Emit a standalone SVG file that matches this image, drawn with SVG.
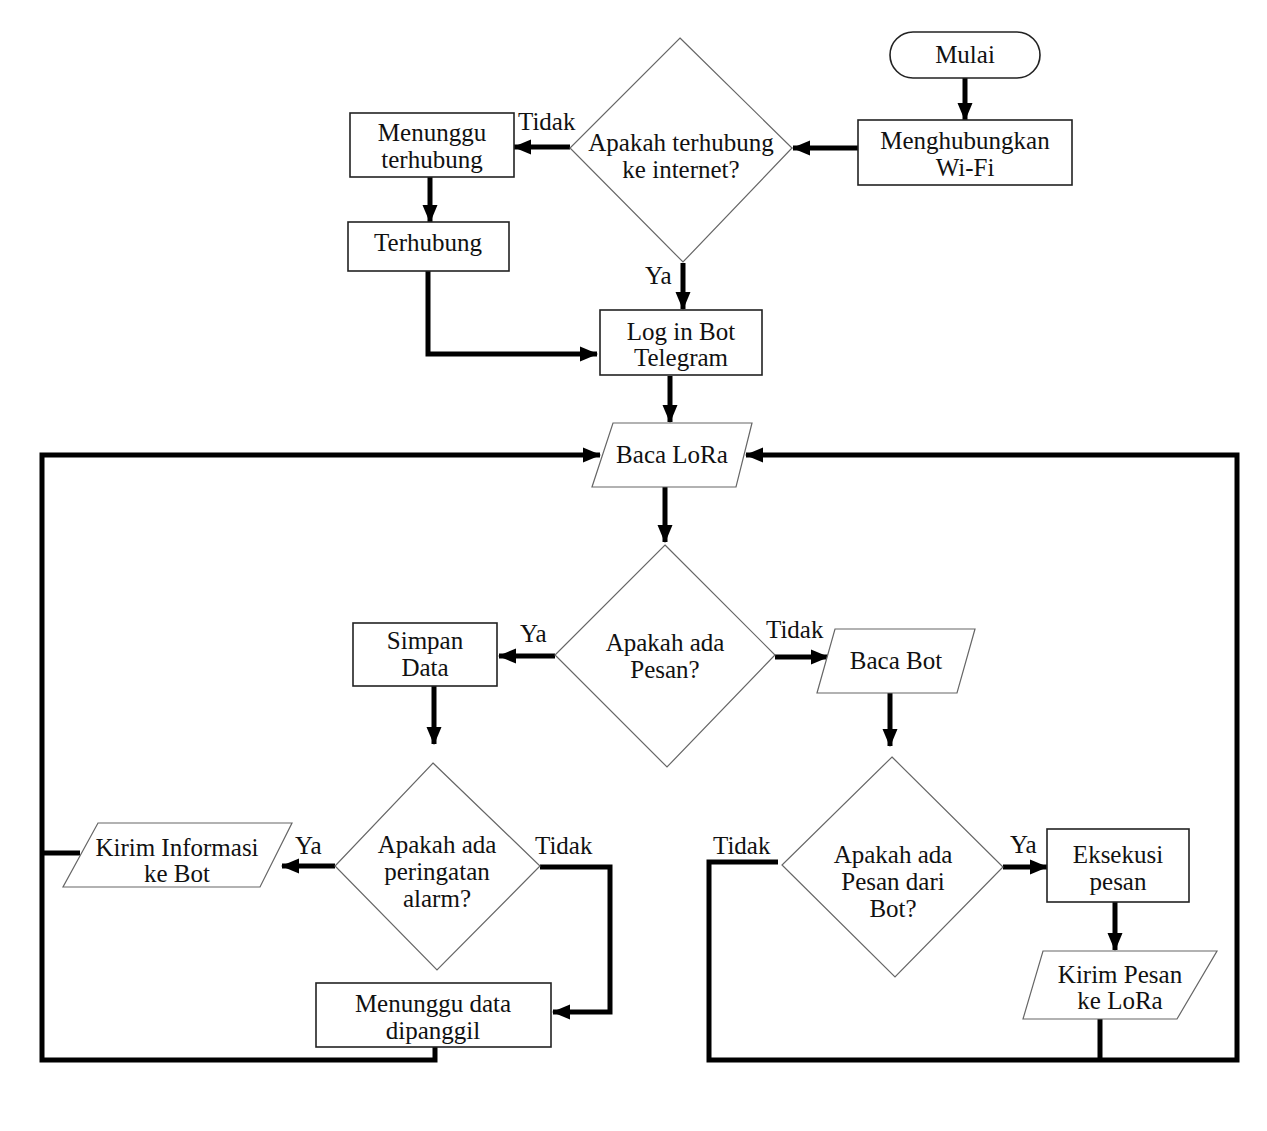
<svg xmlns="http://www.w3.org/2000/svg" width="1267" height="1131" viewBox="0 0 1267 1131">
<style>
.box{fill:#fff;stroke:#222;stroke-width:1.6}
.dia{fill:#fff;stroke:#666;stroke-width:1.2}
.t{font-family:"Liberation Serif","Times New Roman",serif;font-size:25px;fill:#111;text-anchor:middle}
.lbl{font-family:"Liberation Serif","Times New Roman",serif;font-size:25px;fill:#111}
.c{fill:none;stroke:#000;stroke-width:5;stroke-linejoin:miter}
.a{marker-end:url(#ah)}
</style>
<defs>
<marker id="ah" markerUnits="userSpaceOnUse" markerWidth="18" markerHeight="16" refX="17" refY="8" orient="auto">
<path d="M0,0.5 L18,8 L0,15.5 z" fill="#000"/>
</marker>
</defs>
<rect width="1267" height="1131" fill="#fff"/>
<g id="connectors">
<path class="c a" d="M965,78 V120"/>
<path class="c a" d="M858,148 H793"/>
<path class="c a" d="M570,147 H514"/>
<path class="c a" d="M430,177 V222"/>
<path class="c a" d="M428,271 V354 H597"/>
<path class="c a" d="M683,263 V309"/>
<path class="c a" d="M670,376 V422"/>
<path class="c a" d="M435,1047 V1060 H42 V455 H600"/>
<path class="c" d="M42,853 H80"/>
<path class="c a" d="M778,862 H709 V1060 H1237 V455 H746"/>
<path class="c" d="M1100,1019 V1060"/>
<path class="c a" d="M665,487 V542"/>
<path class="c a" d="M555,656 H499"/>
<path class="c a" d="M434,686 V744"/>
<path class="c a" d="M775,657 H828"/>
<path class="c a" d="M890,693 V746"/>
<path class="c a" d="M1003,867 H1047"/>
<path class="c a" d="M1115,902 V950"/>
<path class="c a" d="M335,866 H282"/>
<path class="c a" d="M540,867 H610 V1012 H553"/>
</g>
<g id="labels">
<text class="lbl" x="518" y="130">Tidak</text>
<text class="lbl" x="645" y="284">Ya</text>
<text class="lbl" x="520" y="642">Ya</text>
<text class="lbl" x="766" y="638">Tidak</text>
<text class="lbl" x="295" y="854">Ya</text>
<text class="lbl" x="535" y="854">Tidak</text>
<text class="lbl" x="713" y="854">Tidak</text>
<text class="lbl" x="1010" y="853">Ya</text>
</g>
<g id="mulai">
<rect class="box" x="890" y="32" width="150" height="46" rx="23"/>
<text class="t" x="965" y="63">Mulai</text>
</g>
<g id="wifi">
<rect class="box" x="858" y="120" width="214" height="65"/>
<text class="t" x="965" y="149">Menghubungkan</text>
<text class="t" x="965" y="176">Wi-Fi</text>
</g>
<g id="cek-internet">
<polygon class="dia" points="680,38 792,148 683,262 570,148"/>
<text class="t" x="681" y="151">Apakah terhubung</text>
<text class="t" x="681" y="178">ke internet?</text>
</g>
<g id="menunggu">
<rect class="box" x="350" y="113" width="164" height="64"/>
<text class="t" x="432" y="141">Menunggu</text>
<text class="t" x="432" y="168">terhubung</text>
</g>
<g id="terhubung">
<rect class="box" x="348" y="222" width="161" height="49"/>
<text class="t" x="428" y="251">Terhubung</text>
</g>
<g id="login">
<rect class="box" x="600" y="310" width="162" height="65"/>
<text class="t" x="681" y="340">Log in Bot</text>
<text class="t" x="681" y="366">Telegram</text>
</g>
<g id="baca-lora">
<polygon class="dia" points="613,423 752,423 736,487 592,487"/>
<text class="t" x="672" y="463">Baca LoRa</text>
</g>
<g id="ada-pesan">
<polygon class="dia" points="665,545 775,655 667,767 555,655"/>
<text class="t" x="665" y="651">Apakah ada</text>
<text class="t" x="665" y="678">Pesan?</text>
</g>
<g id="simpan">
<rect class="box" x="353" y="623" width="144" height="63"/>
<text class="t" x="425" y="649">Simpan</text>
<text class="t" x="425" y="676">Data</text>
</g>
<g id="baca-bot">
<polygon class="dia" points="835,629 975,629 957,693 817,693"/>
<text class="t" x="896" y="669">Baca Bot</text>
</g>
<g id="alarm">
<polygon class="dia" points="433,763 540,866 437,970 335,866"/>
<text class="t" x="437" y="853">Apakah ada</text>
<text class="t" x="437" y="880">peringatan</text>
<text class="t" x="437" y="907">alarm?</text>
</g>
<g id="kirim-info">
<polygon class="dia" points="98,823 292,823 260,887 63,887"/>
<text class="t" x="177" y="856">Kirim Informasi</text>
<text class="t" x="177" y="882">ke Bot</text>
</g>
<g id="menunggu-data">
<rect class="box" x="316" y="983" width="235" height="64"/>
<text class="t" x="433" y="1012">Menunggu data</text>
<text class="t" x="433" y="1039">dipanggil</text>
</g>
<g id="pesan-bot">
<polygon class="dia" points="892,757 1003,867 895,977 782,865"/>
<text class="t" x="893" y="863">Apakah ada</text>
<text class="t" x="893" y="890">Pesan dari</text>
<text class="t" x="893" y="917">Bot?</text>
</g>
<g id="eksekusi">
<rect class="box" x="1047" y="829" width="142" height="73"/>
<text class="t" x="1118" y="863">Eksekusi</text>
<text class="t" x="1118" y="890">pesan</text>
</g>
<g id="kirim-pesan">
<polygon class="dia" points="1043,951 1217,951 1177,1019 1023,1019"/>
<text class="t" x="1120" y="983">Kirim Pesan</text>
<text class="t" x="1120" y="1009">ke LoRa</text>
</g>
</svg>
